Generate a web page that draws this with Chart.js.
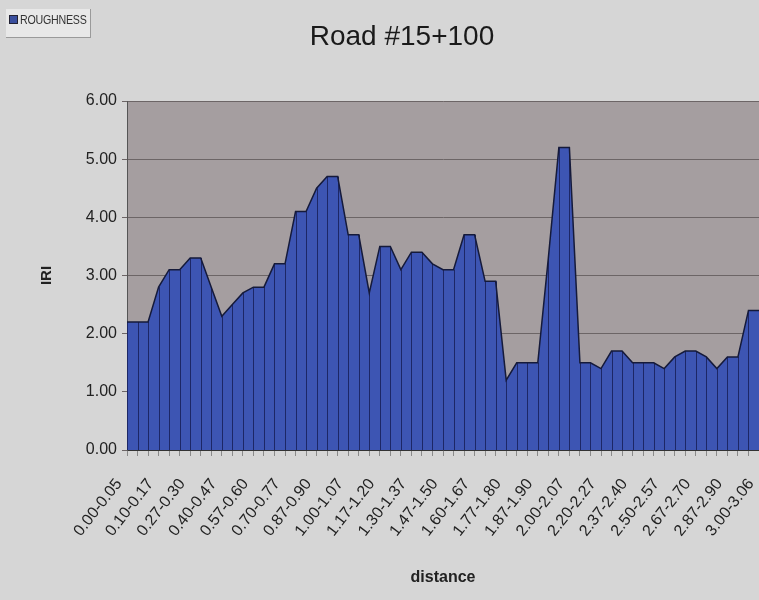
<!DOCTYPE html>
<html>
<head>
<meta charset="utf-8">
<script src="https://cdn.jsdelivr.net/npm/chart.js@4.4.1/dist/chart.umd.min.js"></script>
<style>
  html, body { margin: 0; padding: 0; background: #d6d6d6; overflow: hidden; }
  #wrap { position: relative; width: 759px; height: 600px; }
  #title {
    position: absolute; left: 0; width: 804px; top: 20px; text-align: center;
    font: 28px "Liberation Sans", Arial, sans-serif; color: #1a1a1a;
  }
  #legend {
    position: absolute; left: 6px; top: 9px; width: 84px; height: 28px;
    background: #e8e8e8; border-right: 1px solid #9a9a9a; border-bottom: 1px solid #9a9a9a;
    font: 13px "Liberation Sans", Arial, sans-serif; color: #333;
    white-space: nowrap;
  }
  #legend i { position: absolute; left: 3px; top: 6px; width: 7px; height: 7px; background: #3a4f9e; border: 1px solid #223; }
  #legend span {
    position: absolute; left: 14px; top: 3px; letter-spacing: -0.3px;
    transform: scaleX(0.82); transform-origin: left center;
  }
  canvas { position: absolute; left: 0; top: 0; }
</style>
</head>
<body>
<div id="wrap">
  <canvas id="chart" width="759" height="600"></canvas>
  <div id="title">Road #15+100</div>
  <div id="legend"><i></i><span>ROUGHNESS</span></div>
</div>
<script>
// distance intervals (km)
const distances = [
  '0.00-0.05', '0.05-0.07', '0.07-0.10', '0.10-0.17', '0.17-0.20', '0.20-0.27',
  '0.27-0.30', '0.30-0.37', '0.37-0.40', '0.40-0.47', '0.47-0.50', '0.50-0.57',
  '0.57-0.60', '0.60-0.67', '0.67-0.70', '0.70-0.77', '0.77-0.80', '0.80-0.87',
  '0.87-0.90', '0.90-0.97', '0.97-1.00', '1.00-1.07', '1.07-1.10', '1.10-1.17',
  '1.17-1.20', '1.20-1.27', '1.27-1.30', '1.30-1.37', '1.37-1.40', '1.40-1.47',
  '1.47-1.50', '1.50-1.57', '1.57-1.60', '1.60-1.67', '1.67-1.70', '1.70-1.77',
  '1.77-1.80', '1.80-1.83', '1.83-1.87', '1.87-1.90', '1.90-1.97', '1.97-2.00',
  '2.00-2.07', '2.07-2.10', '2.10-2.20', '2.20-2.27', '2.27-2.30', '2.30-2.37',
  '2.37-2.40', '2.40-2.47', '2.47-2.50', '2.50-2.57', '2.57-2.60', '2.60-2.67',
  '2.67-2.70', '2.70-2.80', '2.80-2.87', '2.87-2.90', '2.90-2.97', '2.97-3.00',
  '3.00-3.06'
];

// IRI roughness per interval
const roughness = [
  2.2, 2.2, 2.2, 2.8, 3.1, 3.1, 3.3, 3.3, 2.8, 2.3,
  2.5, 2.7, 2.8, 2.8, 3.2, 3.2, 4.1, 4.1, 4.5, 4.7,
  4.7, 3.7, 3.7, 2.7, 3.5, 3.5, 3.1, 3.4, 3.4, 3.2,
  3.1, 3.1, 3.7, 3.7, 2.9, 2.9, 1.2, 1.5, 1.5, 1.5,
  3.3, 5.2, 5.2, 1.5, 1.5, 1.4, 1.7, 1.7, 1.5, 1.5,
  1.5, 1.4, 1.6, 1.7, 1.7, 1.6, 1.4, 1.6, 1.6, 2.4,
  2.4
];

const labelEvery = 3;

const plotBackground = {
  id: 'plotBackground',
  beforeDraw(chart) {
    const { ctx, chartArea: a } = chart;
    ctx.save();
    ctx.fillStyle = '#a59ea0';
    ctx.fillRect(a.left, a.top, a.right - a.left, a.bottom - a.top);
    ctx.restore();
  }
};

// vertical drop lines from every point down to the axis
const dropLines = {
  id: 'dropLines',
  beforeDatasetDraw(chart, args) {
    const meta = chart.getDatasetMeta(args.index);
    const y0 = chart.scales.y.getPixelForValue(0);
    const ctx = chart.ctx;
    ctx.save();
    ctx.strokeStyle = '#1d2766';
    ctx.lineWidth = 1;
    meta.data.forEach(pt => {
      const x = Math.round(pt.x) + 0.5;
      ctx.beginPath();
      ctx.moveTo(x, pt.y);
      ctx.lineTo(x, y0);
      ctx.stroke();
    });
    ctx.restore();
  }
};

new Chart(document.getElementById('chart'), {
  type: 'line',
  data: {
    labels: distances,
    datasets: [{
      label: 'ROUGHNESS',
      data: roughness,
      fill: 'origin',
      backgroundColor: '#3d55b3',
      borderColor: '#151a3a',
      borderWidth: 1.5,
      pointRadius: 0,
      tension: 0
    }]
  },
  options: {
    responsive: false,
    animation: false,
    layout: { padding: { top: 101, right: 0, left: 0, bottom: 0 } },
    plugins: {
      legend: { display: false },
      tooltip: { enabled: false }
    },
    scales: {
      x: {
        offset: false,
        grid: { drawOnChartArea: false, drawTicks: true, tickLength: 6, color: '#8a8a8a' },
        border: { color: '#333' },
        ticks: {
          autoSkip: false,
          minRotation: 52,
          maxRotation: 52,
          padding: 19,
          labelOffset: -8,
          color: '#222',
          font: { family: 'Liberation Sans, Arial, sans-serif', size: 16 },
          callback: (v, i) => (i % labelEvery === 0 ? distances[i] : '')
        },
        title: {
          display: true,
          text: 'distance',
          color: '#222',
          font: { family: 'Liberation Sans, Arial, sans-serif', size: 16, weight: 'bold' },
          padding: { top: 4, bottom: 13 }
        },
        afterFit(s) {
          s.height = 150;
          s.paddingRight = 0;
        }
      },
      y: {
        min: 0,
        max: 6,
        grid: { color: '#6c6566', tickLength: 5 },
        border: { color: '#555' },
        ticks: {
          stepSize: 1,
          padding: 5,
          color: '#222',
          font: { family: 'Liberation Sans, Arial, sans-serif', size: 16 },
          callback: v => v.toFixed(2)
        },
        title: {
          display: true,
          text: 'IRI',
          color: '#222',
          font: { family: 'Liberation Sans, Arial, sans-serif', size: 15, weight: 'bold' },
          padding: { top: 38 }
        },
        afterFit(s) { s.width = 127; }
      }
    }
  },
  plugins: [plotBackground, dropLines]
});
</script>
</body>
</html>
